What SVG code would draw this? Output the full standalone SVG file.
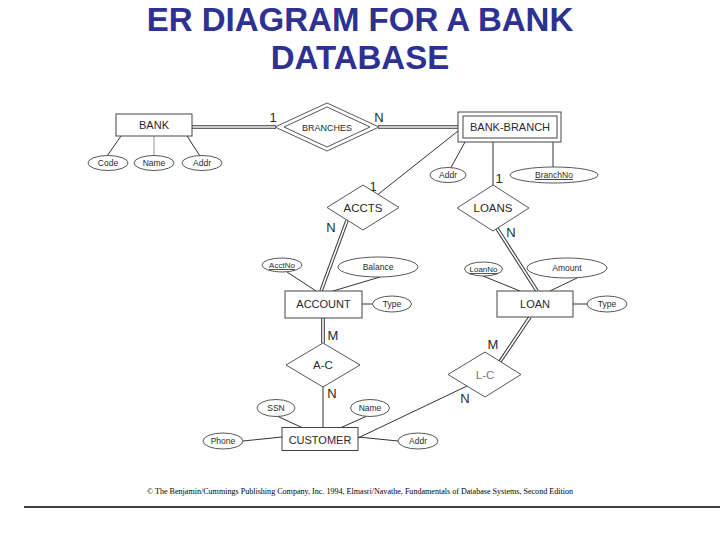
<svg xmlns="http://www.w3.org/2000/svg" width="720" height="540" viewBox="0 0 720 540">
<style>
.bg{fill:#ffffff}
.title{font-family:"Liberation Sans",Arial,sans-serif;font-weight:bold;font-size:33px;fill:#2E3192;text-anchor:middle}
.ln{stroke:#333;stroke-width:1;fill:none}
.lt{stroke:#999;stroke-width:1;fill:none}
.dblo{stroke:#333;stroke-width:3.6;fill:none}
.dbli{stroke:#fff;stroke-width:1.6;fill:none}
.ent{fill:#fff;stroke:#444;stroke-width:1}
.rel{fill:#fff;stroke:#444;stroke-width:0.9}
.att{fill:#fff;stroke:#444;stroke-width:0.9}
.t{font-family:"Liberation Sans",Arial,sans-serif;fill:#2a2a2a;text-anchor:middle}
.te{font-size:11px}
.tr{font-size:11.5px}
.ta{font-size:8.5px}
.tc{font-size:13px}
.u{text-decoration:underline}
.foot{font-family:"Liberation Serif","Times New Roman",serif;font-size:8px;fill:#000}
</style>
<rect class="bg" x="0" y="0" width="720" height="540"/>
<g id="title">
<text class="title" x="360" y="31">ER DIAGRAM FOR A BANK</text>
<text class="title" x="360" y="69">DATABASE</text>
</g>
<g id="connectors">
<path class="dblo" d="M192,127 H276"/><path class="dbli" d="M192,127 H276"/>
<path class="dblo" d="M378,127 H458"/><path class="dbli" d="M378,127 H458"/>
<path class="dblo" d="M347,220.5 L321,291"/><path class="dbli" d="M347,220.5 L321,291"/>
<path class="dblo" d="M497,228.5 L537,291"/><path class="dbli" d="M497,228.5 L537,291"/>
<path class="dblo" d="M323,318 V343"/><path class="dbli" d="M323,318 V343"/>
<path class="dblo" d="M530,317 L500,361.6"/><path class="dbli" d="M530,317 L500,361.6"/>
<path class="ln" d="M121,136 L107,156"/>
<path class="lt" d="M154,136 V155.5"/>
<path class="ln" d="M187,136 L200,156"/>
<path class="ln" d="M465,142 L451,167.5"/>
<path class="ln" d="M553,142 V167"/>
<path class="ln" d="M458,131 L378,194.4"/>
<path class="ln" d="M493,142 V185"/>
<path class="ln" d="M287,272 L316,291"/>
<path class="ln" d="M380,277 L333,291"/>
<path class="ln" d="M362,304 H372.5"/>
<path class="ln" d="M483,276 L520,291"/>
<path class="ln" d="M577,278 L550,291"/>
<path class="ln" d="M573,304 H587"/>
<path class="ln" d="M323,387 V428"/>
<path class="ln" d="M358,438 L467,386"/>
<path class="ln" d="M278,416.5 L303,428"/>
<path class="ln" d="M366,416.5 L340,428"/>
<path class="ln" d="M243,441 L282,437"/>
<path class="ln" d="M358,437 L398,441"/>
</g>
<g id="cardinalities">
<text class="t tc" x="273" y="122">1</text>
<text class="t tc" x="379" y="122">N</text>
<text class="t tc" x="373" y="191">1</text>
<text class="t tc" x="331" y="232">N</text>
<text class="t tc" x="499" y="183">1</text>
<text class="t tc" x="511" y="237">N</text>
<text class="t tc" x="333" y="340">M</text>
<text class="t tc" x="332" y="398">N</text>
<text class="t tc" x="493" y="349">M</text>
<text class="t tc" x="465" y="403">N</text>
</g>
<g id="bank">
<rect class="ent" x="116" y="114" width="76" height="22"/>
<text class="t te" x="154" y="129">BANK</text>
</g>
<g id="bank-code">
<ellipse class="att" cx="108" cy="163" rx="20" ry="7.5"/>
<text class="t ta" x="108" y="166">Code</text>
</g>
<g id="bank-name">
<ellipse class="att" cx="154" cy="163" rx="20" ry="7.5"/>
<text class="t ta" x="154" y="166">Name</text>
</g>
<g id="bank-addr">
<ellipse class="att" cx="202" cy="163" rx="20" ry="7.5"/>
<text class="t ta" x="202" y="166">Addr</text>
</g>
<g id="branches">
<polygon class="rel" points="275,127 327,103 379,127 327,151"/>
<polygon class="rel" points="284,127 327,107 370,127 327,147"/>
<text class="t" style="font-size:9px" x="327" y="130.5">BRANCHES</text>
</g>
<g id="bank-branch">
<rect class="ent" x="458" y="112" width="103" height="30"/>
<rect class="ent" x="463" y="116" width="94" height="22"/>
<text class="t te" x="510" y="131">BANK-BRANCH</text>
</g>
<g id="branch-addr">
<ellipse class="att" cx="448" cy="175" rx="18" ry="7.5"/>
<text class="t ta" x="448" y="178">Addr</text>
</g>
<g id="branch-no">
<ellipse class="att" cx="554" cy="175" rx="44" ry="8"/>
<text class="t ta u" x="554" y="178">BranchNo</text>
</g>
<g id="accts">
<polygon class="rel" points="327,207.5 363,185 399,207.5 363,230"/>
<text class="t tr" x="363" y="211.5">ACCTS</text>
</g>
<g id="loans">
<polygon class="rel" points="457,208 493,185 529,208 493,231"/>
<text class="t tr" x="493" y="212">LOANS</text>
</g>
<g id="acctno">
<ellipse class="att" cx="282" cy="265" rx="20" ry="7"/>
<text class="t u" style="font-size:8px" x="282" y="268">AcctNo</text>
</g>
<g id="balance">
<ellipse class="att" cx="378" cy="267" rx="40" ry="10"/>
<text class="t ta" x="378" y="270">Balance</text>
</g>
<g id="account">
<rect class="ent" x="285" y="291" width="77" height="27"/>
<text class="t te" x="323.5" y="308">ACCOUNT</text>
</g>
<g id="account-type">
<ellipse class="att" cx="392" cy="304" rx="19.5" ry="8"/>
<text class="t ta" x="392" y="307">Type</text>
</g>
<g id="loanno">
<ellipse class="att" cx="483.5" cy="269" rx="19" ry="7"/>
<text class="t u" style="font-size:8px" x="483.5" y="272">LoanNo</text>
</g>
<g id="amount">
<ellipse class="att" cx="567" cy="268" rx="40" ry="10"/>
<text class="t ta" x="567" y="271">Amount</text>
</g>
<g id="loan">
<rect class="ent" x="497" y="291" width="76" height="26"/>
<text class="t te" x="535" y="308">LOAN</text>
</g>
<g id="loan-type">
<ellipse class="att" cx="607" cy="304" rx="20" ry="8"/>
<text class="t ta" x="607" y="307">Type</text>
</g>
<g id="a-c">
<polygon class="rel" points="286,365 323,343 360,365 323,387"/>
<text class="t tr" x="323" y="369">A-C</text>
</g>
<g id="l-c">
<polygon class="rel" points="448,374.5 485,352 521,374.5 485,397"/>
<text class="t tr" style="fill:#777" x="485" y="378.5">L-C</text>
</g>
<g id="ssn">
<ellipse class="att" cx="276" cy="408" rx="19" ry="8.5"/>
<text class="t ta" x="276" y="411">SSN</text>
</g>
<g id="cust-name">
<ellipse class="att" cx="370" cy="408" rx="19.5" ry="8.5"/>
<text class="t ta" x="370" y="411">Name</text>
</g>
<g id="customer">
<rect class="ent" x="282" y="427.5" width="76" height="23"/>
<text class="t te" x="320" y="443.5">CUSTOMER</text>
</g>
<g id="phone">
<ellipse class="att" cx="223" cy="441" rx="20" ry="8"/>
<text class="t ta" x="223" y="444">Phone</text>
</g>
<g id="cust-addr">
<ellipse class="att" cx="418" cy="441" rx="20" ry="8"/>
<text class="t ta" x="418" y="444">Addr</text>
</g>
<g id="footer">
<text class="foot" x="147" y="494" textLength="426" lengthAdjust="spacingAndGlyphs">© The Benjamin/Cummings Publishing Company, Inc. 1994, Elmasri/Navathe, Fundamentals of Database Systems, Second Edition</text>
<line x1="24" y1="507" x2="720" y2="507" stroke="#000" stroke-width="1.5"/>
</g>
</svg>
